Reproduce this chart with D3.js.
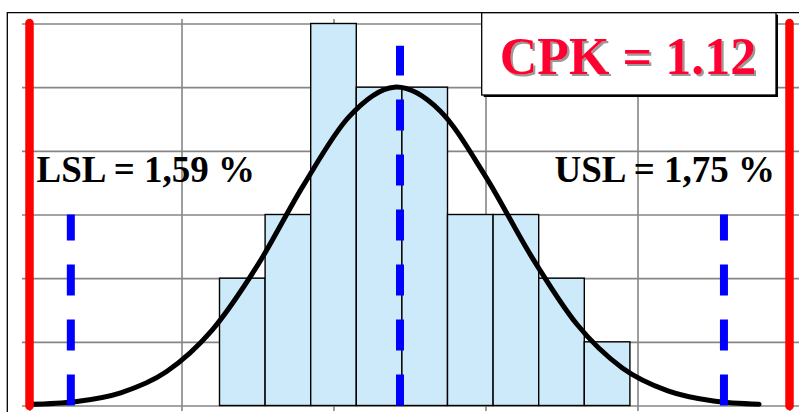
<!DOCTYPE html>
<html><head><meta charset="utf-8">
<script src="https://cdn.jsdelivr.net/npm/d3@7/dist/d3.min.js"></script>
<style>html,body{margin:0;padding:0;background:#fff;overflow:hidden}</style>
</head><body>
<svg id="c" width="799" height="412"></svg>
<script>
// ---- data ----
const binEdges   = [1.630, 1.6396, 1.6492, 1.6588, 1.6684, 1.678, 1.6876, 1.6972, 1.7068, 1.7164, 1.726];
const binCounts  = [2, 3, 6, 5, 5, 3, 3, 2, 1, 0];
const curveX     = [1.59, 1.5996, 1.6092, 1.6188, 1.6284, 1.638, 1.6476, 1.6572, 1.6668, 1.6764, 1.686, 1.6956, 1.7052, 1.7148, 1.7244, 1.734, 1.7436];
const curveY     = [0.02, 0.06, 0.20, 0.53, 1.18, 2.20, 3.45, 4.53, 5.00, 4.63, 3.60, 2.35, 1.28, 0.59, 0.23, 0.07, 0.02];
const specX      = [1.59, 1.75];
const specLabels = ["LSL = 1,59 %", "USL = 1,75 %"];
const sigmaX     = [1.5987, 1.668, 1.7362];   // mean - 3s, mean, mean + 3s
const sigmaTop   = [3, 5.65, 3];
const xGrid      = [1.59, 1.622, 1.654, 1.686, 1.718, 1.75];
const yTicks     = [0, 1, 2, 3, 4, 5, 6];
const cpkLabel   = "CPK = 1.12";

const svg = d3.select("#c");
const x = d3.scaleLinear().domain([1.59, 1.75]).range([29.5, 789.5]);
const y = d3.scaleLinear().domain([0, 6]).range([405.5, 23.5]);

const defs = svg.append("defs");
const f = defs.append("filter").attr("id", "shadow").attr("x", "-10%").attr("y", "-10%").attr("width", "120%").attr("height", "130%");
f.append("feDropShadow").attr("dx", 2).attr("dy", 2).attr("stdDeviation", 0.4)
  .attr("flood-color", "#999").attr("flood-opacity", 1);

// chart border
svg.append("path").attr("d", "M7.3,420 V12.7 H820").attr("fill", "none")
  .attr("stroke", "#000").attr("stroke-width", 1.3);

// vertical gridlines + x ticks
const gx = svg.append("g").attr("transform", "translate(0,411)")
  .call(d3.axisBottom(x).tickValues(xGrid).tickSize(-392).tickFormat(""));
gx.select(".domain").remove();
gx.selectAll("line").attr("stroke", "#868686").attr("stroke-width", 1.6);

// horizontal gridlines + y ticks
const gy = svg.append("g").attr("transform", "translate(22,0)")
  .call(d3.axisLeft(y).tickValues(yTicks).tickSize(-800).tickFormat(""));
gy.select(".domain").remove();
gy.selectAll("line").attr("stroke", "#868686").attr("stroke-width", 1.6);

// histogram bars
const bins = binCounts.map((c, i) => ({x0: binEdges[i], x1: binEdges[i + 1], c}));
svg.append("g").selectAll("rect").data(bins).join("rect")
  .attr("x", d => x(d.x0)).attr("width", d => x(d.x1) - x(d.x0))
  .attr("y", d => y(d.c)).attr("height", d => y(0) - y(d.c))
  .attr("fill", "#cdeafb").attr("stroke", "#000").attr("stroke-width", 1.4);

// normal curve
const pts = curveX.map((v, i) => [v, curveY[i]]);
svg.append("path").datum(pts)
  .attr("d", d3.line().x(d => x(d[0])).y(d => y(d[1])).curve(d3.curveCatmullRom.alpha(0)))
  .attr("fill", "none").attr("stroke", "#000").attr("stroke-width", 5)
  .attr("stroke-linecap", "round").attr("stroke-linejoin", "round");

// blue dashed lines (mean and +/- 3 sigma)
svg.append("g").selectAll("line").data(sigmaX).join("line")
  .attr("x1", d => x(d)).attr("x2", d => x(d))
  .attr("y1", y(0)).attr("y2", (d, i) => y(sigmaTop[i]))
  .attr("stroke", "#0000ff").attr("stroke-width", 8).attr("stroke-dasharray", "31 24");

// red spec-limit lines
svg.append("g").selectAll("line").data(specX).join("line")
  .attr("x1", d => x(d)).attr("x2", d => x(d))
  .attr("y1", y(6) - 0.5).attr("y2", y(0) + 0.5)
  .attr("stroke", "#ff0000").attr("stroke-width", 8.5).attr("stroke-linecap", "round");

// spec labels
const font = "'Liberation Serif','Times New Roman',serif";
svg.append("text").attr("x", 36.5).attr("y", 181.7).text(specLabels[0])
  .attr("font-family", font).attr("font-weight", "bold").attr("font-size", 37).attr("fill", "#000");
svg.append("text").attr("x", 775).attr("y", 181.7).attr("text-anchor", "end").text(specLabels[1])
  .attr("font-family", font).attr("font-weight", "bold").attr("font-size", 37).attr("fill", "#000");

// CPK box
svg.append("rect").attr("x", 483.7).attr("y", 14.7).attr("width", 294.3).attr("height", 82.3).attr("fill", "#000");
svg.append("rect").attr("x", 481.7).attr("y", 12.7).attr("width", 294.3).attr("height", 82.3)
  .attr("fill", "#fff").attr("stroke", "#000").attr("stroke-width", 1.3);
svg.append("text").attr("x", 628).attr("y", 73.5).attr("text-anchor", "middle").text(cpkLabel)
  .attr("font-family", font).attr("font-weight", "bold").attr("font-size", 52).attr("fill", "#ff0033")
  .attr("filter", "url(#shadow)");
</script>
</body></html>
